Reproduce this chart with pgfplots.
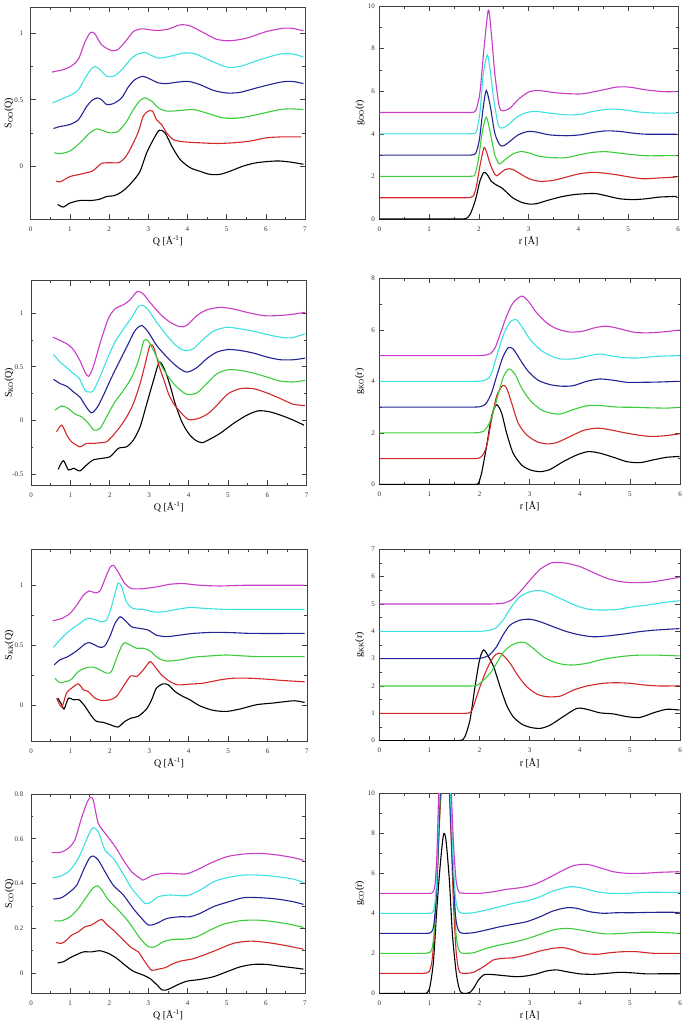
\documentclass[border=0pt]{standalone}
\usepackage{pgfplots}
\pgfplotsset{compat=1.18}
\usepackage{fontspec}
\setmainfont{Liberation Serif}
\definecolor{c0}{RGB}{0,0,0}
\definecolor{c1}{RGB}{210,40,40}
\definecolor{c2}{RGB}{60,205,60}
\definecolor{c3}{RGB}{35,35,150}
\definecolor{c4}{RGB}{60,225,225}
\definecolor{c5}{RGB}{200,60,200}
\pgfplotsset{
  grace/.style={scale only axis, anchor=north west, tick align=inside,
    major tick length=5pt, minor tick length=2.5pt, minor tick num=1,
    axis line style={line width=0.8pt, black!75},
    every tick/.style={black!75, line width=0.6pt},
    tick label style={font=\fontsize{7}{8}\selectfont, text=black!80},
    label style={font=\fontsize{12}{14}\selectfont},
    /pgf/number format/assume math mode=true,
    xticklabel shift=4pt,
    every axis x label/.style={at={(axis description cs:0.5,0)}, anchor=center, yshift=-22pt},
    every axis plot/.append style={line width=1.1pt, smooth, tension=0.45, no markers},
    cycle list={{c0},{c1},{c2},{c3},{c4},{c5}}},
  leftax/.style={grace, xmin=0, xmax=7, xtick={0,...,7}, yticklabel shift=4pt,
    xlabel={Q [Å\textsuperscript{-1}]},
    every axis y label/.style={at={(axis description cs:-0.079,0.5)}, rotate=90, anchor=center}},
  rightax/.style={grace, xmin=0, xmax=6, xtick={0,...,6}, yticklabel shift=1pt,
    xlabel={r [Å]},
    every axis y label/.style={at={(axis description cs:-0.065,0.5)}, rotate=90, anchor=center}},
}
\begin{document}
\begin{tikzpicture}
\useasboundingbox (0pt,0pt) rectangle (685pt,-1023pt);
% ---------- S_OO
\begin{axis}[leftax, at={(30.7pt,-7pt)}, width=274.3pt, height=212pt,
  ymin=-0.4, ymax=1.2, ytick={0,0.5,1}, ylabel={S\textsubscript{OO}(Q)}]
\addplot coordinates {(0.69,-0.29)(0.83,-0.31)(1.0,-0.28)(1.26,-0.26)(1.56,-0.26)(1.77,-0.25)(1.94,-0.23)(2.11,-0.225)(2.24,-0.21)(2.41,-0.175)(2.62,-0.11)(2.79,-0.04)(2.96,0.10)(3.13,0.20)(3.28,0.27)(3.43,0.25)(3.6,0.15)(3.81,0.05)(4.07,-0.013)(4.32,-0.04)(4.57,-0.063)(4.83,-0.063)(5.08,-0.04)(5.43,0)(5.77,0.025)(6.28,0.038)(6.62,0.03)(6.96,0.013)};
\addplot coordinates {(0.65,-0.113)(0.75,-0.12)(1.0,-0.08)(1.30,-0.06)(1.56,-0.04)(1.68,-0.013)(1.81,0.02)(2.02,0.025)(2.24,0.025)(2.41,0.063)(2.58,0.15)(2.75,0.26)(2.87,0.376)(3.0,0.414)(3.11,0.414)(3.21,0.35)(3.34,0.313)(3.47,0.25)(3.64,0.2)(3.89,0.183)(4.32,0.175)(4.74,0.17)(5.17,0.175)(5.6,0.188)(6.02,0.213)(6.45,0.22)(6.91,0.22)};
\addplot coordinates {(0.60,0.10)(0.75,0.093)(1.0,0.113)(1.26,0.175)(1.51,0.25)(1.68,0.28)(1.81,0.27)(2.02,0.25)(2.24,0.263)(2.45,0.338)(2.62,0.426)(2.79,0.494)(2.92,0.514)(3.09,0.489)(3.26,0.439)(3.47,0.414)(3.81,0.419)(4.15,0.426)(4.49,0.40)(4.91,0.363)(5.34,0.363)(5.85,0.393)(6.36,0.426)(6.66,0.431)(6.96,0.426)};
\addplot coordinates {(0.58,0.283)(0.75,0.298)(1.0,0.313)(1.22,0.35)(1.43,0.45)(1.56,0.494)(1.70,0.514)(1.81,0.50)(1.94,0.464)(2.11,0.471)(2.32,0.514)(2.49,0.596)(2.66,0.652)(2.86,0.677)(3.04,0.657)(3.26,0.627)(3.47,0.622)(3.72,0.632)(4.02,0.639)(4.32,0.614)(4.66,0.571)(5.0,0.551)(5.34,0.556)(5.85,0.596)(6.36,0.632)(6.66,0.639)(6.96,0.622)};
\addplot coordinates {(0.56,0.476)(0.79,0.506)(1.05,0.539)(1.22,0.576)(1.39,0.664)(1.53,0.727)(1.64,0.752)(1.77,0.727)(1.94,0.677)(2.15,0.682)(2.36,0.739)(2.58,0.815)(2.75,0.847)(2.92,0.857)(3.04,0.84)(3.26,0.815)(3.55,0.827)(3.89,0.852)(4.19,0.847)(4.57,0.797)(5.0,0.747)(5.34,0.752)(5.85,0.802)(6.36,0.845)(6.70,0.845)(6.96,0.822)};
\addplot coordinates {(0.54,0.709)(0.83,0.727)(1.05,0.757)(1.22,0.807)(1.39,0.94)(1.53,1.008)(1.64,0.997)(1.81,0.915)(2.07,0.87)(2.24,0.882)(2.45,0.952)(2.62,1.015)(2.83,1.035)(3.04,1.028)(3.26,1.023)(3.51,1.033)(3.81,1.065)(4.06,1.058)(4.40,1.008)(4.74,0.957)(5.08,0.945)(5.51,0.965)(6.02,1.015)(6.45,1.04)(6.70,1.038)(6.96,1.02)};
\end{axis}
% ---------- g_OO
\begin{axis}[rightax, at={(379.3pt,-6pt)}, width=298.7pt, height=213pt,
  ymin=0, ymax=10, ytick={0,2,...,10}, ylabel={g\textsubscript{OO}(r)}]
\addplot coordinates {(0,0)(0.8,0)(1.3,0)(1.55,0)(1.68,0)(1.75,0.03)(1.82,0.2)(1.89,0.6)(1.95,1.06)(2.02,1.77)(2.10,2.19)(2.17,2.08)(2.25,1.77)(2.35,1.6)(2.45,1.48)(2.56,1.25)(2.69,0.98)(2.86,0.78)(3.02,0.70)(3.16,0.72)(3.36,0.86)(3.63,1.03)(3.89,1.14)(4.16,1.19)(4.36,1.19)(4.56,1.09)(4.83,0.95)(5.10,0.91)(5.36,0.95)(5.63,1.03)(5.97,1.06)};
\addplot coordinates {(0,1)(0.8,1)(1.3,1)(1.6,1)(1.75,1)(1.83,1.01)(1.89,1.08)(1.95,1.53)(2.02,2.47)(2.10,3.33)(2.15,3.17)(2.22,2.63)(2.29,2.23)(2.35,2.03)(2.42,2.13)(2.52,2.31)(2.62,2.36)(2.72,2.28)(2.86,2.08)(3.02,1.88)(3.22,1.77)(3.49,1.81)(3.76,1.97)(4.03,2.13)(4.29,2.19)(4.49,2.16)(4.76,2.08)(5.03,1.97)(5.30,1.89)(5.57,1.92)(5.97,1.97)};
\addplot coordinates {(0,2)(0.8,2)(1.3,2)(1.6,2)(1.77,2)(1.86,2.01)(1.92,2.08)(1.99,2.78)(2.07,4.1)(2.15,4.78)(2.23,4.03)(2.32,3.02)(2.41,2.59)(2.52,2.78)(2.69,3.06)(2.86,3.17)(3.02,3.09)(3.22,2.94)(3.49,2.88)(3.76,2.88)(4.03,3.02)(4.29,3.13)(4.56,3.16)(4.83,3.09)(5.10,3.02)(5.36,2.97)(5.63,2.97)(5.97,2.98)};
\addplot coordinates {(0,3)(0.8,3)(1.3,3)(1.6,3)(1.78,3)(1.87,3.01)(1.94,3.1)(2.01,3.72)(2.09,5.28)(2.15,6.03)(2.23,5.28)(2.32,4.03)(2.42,3.48)(2.50,3.44)(2.62,3.64)(2.79,3.95)(2.99,4.11)(3.16,4.08)(3.42,3.95)(3.76,3.91)(4.03,3.95)(4.29,4.06)(4.56,4.14)(4.83,4.11)(5.10,4.03)(5.36,3.98)(5.70,3.98)(5.97,3.98)};
\addplot coordinates {(0,4)(0.8,4)(1.3,4)(1.6,4)(1.8,4)(1.89,4.01)(1.95,4.1)(2.02,4.97)(2.09,6.84)(2.17,7.70)(2.23,6.92)(2.30,5.59)(2.39,4.42)(2.47,4.27)(2.59,4.42)(2.76,4.78)(2.96,5.0)(3.16,5.05)(3.42,4.97)(3.76,4.89)(4.03,4.91)(4.29,5.05)(4.63,5.16)(4.90,5.13)(5.23,5.02)(5.57,4.97)(5.97,4.97)};
\addplot coordinates {(0,5)(0.8,5)(1.3,5)(1.6,5)(1.78,5)(1.87,5.01)(1.94,5.1)(2.02,5.91)(2.10,7.94)(2.19,9.81)(2.25,8.72)(2.32,6.84)(2.41,5.28)(2.49,5.08)(2.62,5.20)(2.82,5.67)(3.02,5.98)(3.22,6.03)(3.49,5.94)(3.83,5.88)(4.09,5.88)(4.43,6.03)(4.76,6.19)(5.03,6.19)(5.36,6.06)(5.70,5.98)(5.97,5.98)};
\end{axis}
% ---------- S_KO
\begin{axis}[leftax, at={(31pt,-280.7pt)}, width=275.7pt, height=204.3pt,
  ymin=-0.6, ymax=1.3, ytick={-0.5,0,0.5,1}, ylabel={S\textsubscript{KO}(Q)}]
\addplot coordinates {(0.69,-0.454)(0.82,-0.373)(0.95,-0.46)(1.08,-0.444)(1.24,-0.469)(1.41,-0.414)(1.58,-0.367)(1.80,-0.352)(2.01,-0.336)(2.22,-0.259)(2.43,-0.244)(2.60,-0.182)(2.77,-0.059)(2.94,0.157)(3.11,0.373)(3.26,0.543)(3.40,0.466)(3.53,0.327)(3.66,0.157)(3.83,-0.012)(4.0,-0.12)(4.17,-0.182)(4.34,-0.207)(4.5,-0.182)(4.80,-0.12)(5.14,-0.028)(5.48,0.049)(5.77,0.09)(6.07,0.08)(6.41,0.04)(6.66,0.003)(6.93,-0.043)};
\addplot coordinates {(0.65,-0.105)(0.78,-0.043)(0.91,-0.136)(1.03,-0.198)(1.24,-0.244)(1.41,-0.213)(1.58,-0.213)(1.75,-0.207)(1.92,-0.198)(2.09,-0.136)(2.26,-0.059)(2.43,0.034)(2.60,0.157)(2.77,0.343)(2.90,0.528)(3.02,0.698)(3.12,0.676)(3.26,0.497)(3.38,0.373)(3.49,0.25)(3.62,0.157)(3.79,0.08)(4.0,0.009)(4.25,0.019)(4.50,0.065)(4.76,0.157)(5.01,0.25)(5.31,0.296)(5.65,0.296)(5.99,0.256)(6.33,0.204)(6.66,0.151)(6.96,0.139)};
\addplot coordinates {(0.61,0.096)(0.78,0.136)(0.95,0.111)(1.12,0.059)(1.29,0.034)(1.46,-0.028)(1.60,-0.09)(1.75,-0.074)(1.92,0.034)(2.13,0.173)(2.35,0.281)(2.56,0.404)(2.73,0.559)(2.87,0.744)(2.98,0.738)(3.11,0.651)(3.28,0.528)(3.49,0.404)(3.70,0.312)(3.95,0.244)(4.21,0.256)(4.46,0.343)(4.72,0.435)(5.01,0.472)(5.31,0.466)(5.65,0.441)(5.99,0.404)(6.33,0.367)(6.66,0.358)(6.96,0.373)};
\addplot coordinates {(0.57,0.383)(0.74,0.343)(0.91,0.318)(1.08,0.265)(1.24,0.219)(1.40,0.127)(1.54,0.071)(1.69,0.127)(1.84,0.235)(2.05,0.404)(2.26,0.559)(2.47,0.713)(2.64,0.836)(2.81,0.883)(2.98,0.821)(3.19,0.698)(3.45,0.59)(3.70,0.503)(3.95,0.45)(4.21,0.491)(4.46,0.574)(4.72,0.636)(5.01,0.66)(5.31,0.651)(5.65,0.627)(5.99,0.59)(6.33,0.565)(6.66,0.565)(6.96,0.58)};
\addplot coordinates {(0.57,0.614)(0.74,0.543)(0.91,0.491)(1.08,0.435)(1.23,0.389)(1.37,0.281)(1.48,0.265)(1.58,0.275)(1.75,0.404)(1.92,0.559)(2.13,0.728)(2.35,0.852)(2.56,0.96)(2.73,1.062)(2.85,1.068)(2.98,1.028)(3.19,0.914)(3.45,0.79)(3.70,0.691)(3.91,0.651)(4.12,0.667)(4.34,0.744)(4.63,0.83)(4.97,0.867)(5.31,0.852)(5.65,0.83)(5.99,0.80)(6.33,0.775)(6.62,0.769)(6.96,0.806)};
\addplot coordinates {(0.55,0.775)(0.69,0.753)(0.91,0.713)(1.08,0.657)(1.24,0.559)(1.37,0.451)(1.46,0.41)(1.58,0.497)(1.75,0.713)(1.96,0.944)(2.13,1.037)(2.35,1.077)(2.51,1.12)(2.70,1.20)(2.85,1.176)(3.02,1.099)(3.28,0.99)(3.53,0.914)(3.78,0.873)(3.95,0.883)(4.21,0.975)(4.46,1.028)(4.80,1.052)(5.14,1.037)(5.48,1.006)(5.90,0.975)(6.24,0.975)(6.58,0.985)(6.96,1.006)};
\end{axis}
% ---------- g_KO
\begin{axis}[rightax, at={(379.3pt,-278.3pt)}, width=300.7pt, height=206pt,
  ymin=0, ymax=8, ytick={0,2,...,8}, ylabel={g\textsubscript{KO}(r)}]
\addplot coordinates {(0,0)(0.9,0)(1.4,0)(1.7,0)(1.88,0)(1.97,0.02)(2.04,0.43)(2.14,1.47)(2.24,2.64)(2.34,3.09)(2.44,2.77)(2.54,1.99)(2.67,1.21)(2.84,0.75)(3.01,0.56)(3.21,0.49)(3.41,0.58)(3.67,0.88)(3.94,1.14)(4.17,1.27)(4.40,1.21)(4.67,1.05)(4.94,0.88)(5.20,0.84)(5.47,0.95)(5.74,1.05)(5.99,1.08)};
\addplot coordinates {(0,1)(0.9,1)(1.4,1)(1.7,1)(1.88,1)(1.97,1.01)(2.05,1.1)(2.14,1.47)(2.24,2.51)(2.34,3.42)(2.46,3.83)(2.54,3.74)(2.64,3.16)(2.77,2.38)(2.94,1.92)(3.14,1.66)(3.34,1.57)(3.54,1.62)(3.81,1.86)(4.07,2.09)(4.34,2.18)(4.60,2.12)(4.87,2.01)(5.14,1.92)(5.40,1.86)(5.67,1.88)(5.99,1.96)};
\addplot coordinates {(0,2)(0.9,2)(1.4,2)(1.7,2)(1.9,2)(2.0,2.01)(2.08,2.06)(2.18,2.31)(2.28,2.83)(2.38,3.55)(2.48,4.19)(2.59,4.48)(2.71,4.26)(2.84,3.74)(3.01,3.26)(3.21,2.92)(3.41,2.77)(3.61,2.73)(3.87,2.90)(4.14,3.05)(4.40,3.06)(4.74,3.0)(5.07,2.99)(5.40,2.97)(5.74,2.96)(5.99,2.99)};
\addplot coordinates {(0,3)(0.9,3)(1.4,3)(1.7,3)(1.9,3)(2.0,3.01)(2.07,3.05)(2.14,3.16)(2.24,3.55)(2.34,4.19)(2.46,4.91)(2.57,5.30)(2.67,5.26)(2.81,4.84)(2.97,4.39)(3.17,4.04)(3.41,3.87)(3.64,3.81)(3.87,3.83)(4.14,4.0)(4.40,4.09)(4.67,4.04)(4.94,3.96)(5.20,3.96)(5.54,3.97)(5.99,4.0)};
\addplot coordinates {(0,4)(0.9,4)(1.4,4)(1.7,4)(1.92,4)(2.02,4.01)(2.10,4.04)(2.17,4.1)(2.24,4.32)(2.34,4.97)(2.48,5.82)(2.61,6.30)(2.73,6.40)(2.84,6.14)(3.01,5.62)(3.21,5.23)(3.41,5.0)(3.61,4.87)(3.87,4.87)(4.14,4.97)(4.40,5.06)(4.67,4.97)(4.94,4.91)(5.20,4.91)(5.54,4.97)(5.99,5.0)};
\addplot coordinates {(0,5)(0.9,5)(1.4,5)(1.75,5)(1.97,5)(2.07,5.01)(2.15,5.03)(2.22,5.08)(2.31,5.30)(2.41,5.82)(2.54,6.53)(2.67,7.05)(2.84,7.31)(2.97,7.12)(3.14,6.66)(3.34,6.27)(3.54,6.04)(3.81,5.91)(4.07,5.95)(4.30,6.08)(4.54,6.14)(4.80,6.04)(5.07,5.91)(5.34,5.88)(5.67,5.92)(5.99,5.99)};
\end{axis}
% ---------- S_KK
\begin{axis}[leftax, at={(31pt,-549.3pt)}, width=276pt, height=191.7pt,
  ymin=-0.3, ymax=1.3, ytick={0,0.5,1}, ylabel={S\textsubscript{KK}(Q)}]
\addplot coordinates {(0.68,0.058)(0.78,0.003)(0.84,-0.033)(0.95,0.058)(1.07,0.044)(1.22,0.044)(1.37,-0.011)(1.54,-0.094)(1.66,-0.136)(1.83,-0.144)(2.0,-0.163)(2.21,-0.183)(2.38,-0.136)(2.55,-0.108)(2.72,-0.094)(2.93,-0.033)(3.06,0.044)(3.18,0.141)(3.35,0.177)(3.48,0.169)(3.65,0.114)(3.82,0.078)(4.03,0.044)(4.28,-0.006)(4.62,-0.044)(4.96,-0.053)(5.30,-0.033)(5.72,0.003)(6.14,0.017)(6.48,0.03)(6.69,0.036)(6.94,0.022)};
\addplot coordinates {(0.65,0.058)(0.78,-0.017)(0.90,0.1)(1.03,0.141)(1.20,0.177)(1.33,0.127)(1.45,0.114)(1.62,0.058)(1.79,0.039)(2.0,0.044)(2.17,0.072)(2.34,0.155)(2.53,0.244)(2.68,0.238)(2.85,0.294)(3.02,0.363)(3.14,0.321)(3.31,0.252)(3.52,0.197)(3.73,0.169)(4.03,0.175)(4.37,0.183)(4.79,0.21)(5.13,0.224)(5.55,0.224)(5.97,0.216)(6.39,0.205)(6.94,0.194)};
\addplot coordinates {(0.61,0.224)(0.73,0.188)(0.90,0.197)(1.03,0.216)(1.20,0.28)(1.41,0.313)(1.58,0.316)(1.75,0.294)(1.92,0.266)(2.04,0.28)(2.17,0.391)(2.30,0.493)(2.38,0.521)(2.51,0.501)(2.68,0.474)(2.85,0.474)(3.02,0.452)(3.23,0.391)(3.44,0.368)(3.78,0.377)(4.11,0.399)(4.54,0.41)(4.96,0.418)(5.38,0.41)(5.80,0.404)(6.22,0.404)(6.94,0.404)};
\addplot coordinates {(0.59,0.335)(0.73,0.377)(0.90,0.399)(1.07,0.432)(1.24,0.474)(1.37,0.51)(1.49,0.521)(1.62,0.501)(1.75,0.482)(1.87,0.493)(2.0,0.571)(2.13,0.681)(2.26,0.737)(2.38,0.709)(2.55,0.654)(2.76,0.64)(2.97,0.626)(3.18,0.584)(3.44,0.571)(3.78,0.584)(4.11,0.598)(4.62,0.607)(5.13,0.604)(5.63,0.598)(6.94,0.598)};
\addplot coordinates {(0.57,0.482)(0.73,0.543)(0.90,0.598)(1.11,0.654)(1.24,0.681)(1.37,0.715)(1.49,0.723)(1.66,0.709)(1.79,0.695)(1.92,0.709)(2.04,0.82)(2.13,0.931)(2.21,1.019)(2.30,0.986)(2.42,0.861)(2.59,0.806)(2.85,0.798)(3.10,0.778)(3.35,0.778)(3.69,0.798)(4.03,0.814)(4.45,0.806)(4.96,0.798)(5.55,0.798)(6.94,0.798)};
\addplot coordinates {(0.55,0.704)(0.78,0.723)(0.99,0.765)(1.16,0.834)(1.33,0.917)(1.48,0.953)(1.62,0.936)(1.75,0.953)(1.87,1.047)(2.0,1.147)(2.09,1.166)(2.21,1.111)(2.38,1.014)(2.55,0.972)(2.85,0.972)(3.18,0.986)(3.52,1.008)(3.86,1.014)(4.28,1.0)(4.79,0.994)(5.46,1.0)(6.94,1.0)};
\end{axis}
% ---------- g_KK
\begin{axis}[rightax, at={(379.3pt,-549.3pt)}, width=300.7pt, height=191.4pt,
  ymin=0, ymax=7, ytick={0,...,7}, ylabel={g\textsubscript{KK}(r)}]
\addplot coordinates {(0,0)(0.7,0)(1.1,0)(1.4,0)(1.55,0)(1.64,0.02)(1.71,0.15)(1.81,0.76)(1.91,1.98)(2.0,2.95)(2.08,3.32)(2.18,3.07)(2.28,2.71)(2.41,1.98)(2.54,1.30)(2.67,0.88)(2.84,0.61)(3.01,0.49)(3.21,0.45)(3.41,0.57)(3.67,0.88)(3.94,1.18)(4.14,1.15)(4.40,1.02)(4.67,0.98)(4.94,0.88)(5.20,0.85)(5.47,1.02)(5.74,1.15)(5.99,1.12)};
\addplot coordinates {(0,1)(0.8,1)(1.2,1)(1.5,1)(1.68,1)(1.77,1.01)(1.84,1.08)(1.91,1.43)(2.01,1.98)(2.14,2.59)(2.28,3.07)(2.38,3.20)(2.47,3.13)(2.61,2.83)(2.77,2.37)(2.94,1.98)(3.14,1.71)(3.34,1.61)(3.61,1.63)(3.87,1.85)(4.14,2.0)(4.47,2.10)(4.74,2.12)(5.0,2.10)(5.27,2.04)(5.60,2.0)(5.99,2.01)};
\addplot coordinates {(0,2)(0.8,2)(1.3,2)(1.6,2)(1.8,2)(1.9,2.01)(1.98,2.06)(2.08,2.22)(2.21,2.46)(2.34,2.83)(2.47,3.22)(2.61,3.46)(2.77,3.59)(2.91,3.59)(3.07,3.38)(3.27,3.07)(3.47,2.89)(3.67,2.79)(3.87,2.77)(4.14,2.83)(4.40,2.95)(4.67,3.04)(4.94,3.10)(5.20,3.13)(5.54,3.13)(5.99,3.10)};
\addplot coordinates {(0,3)(0.8,3)(1.3,3)(1.6,3)(1.85,3)(1.98,3.01)(2.08,3.04)(2.2,3.14)(2.34,3.44)(2.47,3.87)(2.61,4.23)(2.81,4.41)(3.01,4.44)(3.21,4.35)(3.47,4.17)(3.74,3.99)(4.0,3.87)(4.27,3.80)(4.54,3.83)(4.87,3.90)(5.20,3.99)(5.54,4.05)(5.99,4.10)};
\addplot coordinates {(0,4)(0.8,4)(1.3,4)(1.7,4)(1.95,4)(2.08,4.01)(2.2,4.04)(2.33,4.13)(2.47,4.41)(2.64,4.90)(2.81,5.27)(3.01,5.45)(3.21,5.49)(3.41,5.37)(3.67,5.15)(3.94,4.93)(4.20,4.80)(4.47,4.78)(4.74,4.80)(5.0,4.88)(5.34,4.96)(5.67,5.05)(5.99,5.12)};
\addplot coordinates {(0,5)(0.8,5)(1.4,5)(1.9,5)(2.2,5)(2.37,5.01)(2.5,5.04)(2.64,5.15)(2.81,5.45)(3.01,5.88)(3.21,6.27)(3.41,6.49)(3.54,6.52)(3.74,6.49)(4.0,6.37)(4.27,6.15)(4.54,5.94)(4.80,5.82)(5.07,5.78)(5.34,5.79)(5.60,5.85)(5.99,5.98)};
\end{axis}
% ---------- S_CO
\begin{axis}[leftax, at={(31pt,-794pt)}, width=274pt, height=199.3pt,
  ymin=-0.09, ymax=0.8, ytick={0,0.2,...,0.8}, ylabel={S\textsubscript{CO}(Q)}]
\addplot coordinates {(0.68,0.046)(0.83,0.051)(1.0,0.069)(1.17,0.083)(1.34,0.095)(1.55,0.095)(1.76,0.10)(1.98,0.088)(2.19,0.066)(2.40,0.036)(2.61,0.009)(2.87,-0.009)(3.04,-0.024)(3.21,-0.051)(3.36,-0.076)(3.51,-0.072)(3.72,-0.054)(3.98,-0.036)(4.32,-0.028)(4.66,-0.016)(5.0,0.006)(5.34,0.028)(5.68,0.039)(6.02,0.039)(6.36,0.031)(6.70,0.024)(6.96,0.018)};
\addplot coordinates {(0.64,0.137)(0.78,0.133)(0.91,0.148)(1.04,0.17)(1.21,0.185)(1.38,0.207)(1.55,0.215)(1.68,0.23)(1.81,0.24)(1.93,0.218)(2.15,0.185)(2.36,0.148)(2.57,0.113)(2.74,0.095)(2.91,0.051)(3.08,0.013)(3.25,0.018)(3.42,0.024)(3.64,0.043)(3.85,0.055)(4.11,0.063)(4.40,0.08)(4.74,0.103)(5.17,0.133)(5.60,0.143)(6.02,0.137)(6.45,0.125)(6.96,0.107)};
\addplot coordinates {(0.60,0.234)(0.78,0.234)(1.0,0.252)(1.21,0.289)(1.42,0.341)(1.58,0.379)(1.70,0.39)(1.81,0.371)(1.98,0.326)(2.23,0.282)(2.49,0.23)(2.79,0.155)(3.0,0.118)(3.17,0.118)(3.38,0.14)(3.64,0.151)(3.94,0.152)(4.23,0.162)(4.57,0.192)(4.91,0.218)(5.34,0.234)(5.77,0.237)(6.19,0.23)(6.62,0.218)(6.96,0.204)};
\addplot coordinates {(0.57,0.331)(0.78,0.337)(1.0,0.364)(1.17,0.393)(1.34,0.46)(1.49,0.513)(1.59,0.523)(1.72,0.505)(1.89,0.453)(2.10,0.393)(2.36,0.349)(2.61,0.289)(2.83,0.244)(3.0,0.215)(3.21,0.222)(3.47,0.244)(3.81,0.252)(4.06,0.252)(4.32,0.267)(4.66,0.297)(5.0,0.316)(5.43,0.337)(5.85,0.337)(6.28,0.331)(6.70,0.319)(6.96,0.307)};
\addplot coordinates {(0.55,0.426)(0.78,0.435)(1.0,0.46)(1.21,0.513)(1.38,0.58)(1.51,0.632)(1.59,0.65)(1.72,0.632)(1.89,0.55)(2.10,0.513)(2.32,0.453)(2.57,0.379)(2.79,0.334)(2.91,0.311)(3.04,0.314)(3.25,0.341)(3.55,0.349)(3.98,0.346)(4.32,0.371)(4.66,0.408)(5.0,0.426)(5.43,0.438)(5.85,0.438)(6.28,0.431)(6.70,0.42)(6.96,0.405)};
\addplot coordinates {(0.53,0.539)(0.74,0.539)(0.95,0.557)(1.12,0.595)(1.29,0.692)(1.44,0.766)(1.52,0.784)(1.59,0.773)(1.72,0.669)(1.93,0.617)(2.15,0.565)(2.36,0.505)(2.57,0.453)(2.79,0.423)(2.87,0.416)(3.13,0.438)(3.47,0.446)(3.94,0.443)(4.23,0.46)(4.57,0.49)(5.0,0.52)(5.43,0.532)(5.85,0.535)(6.28,0.528)(6.70,0.516)(6.96,0.504)};
\end{axis}
% ---------- g_CO
\begin{axis}[rightax, at={(379.3pt,-793.3pt)}, width=300.7pt, height=200pt,
  ymin=0, ymax=10, ytick={0,2,...,10}, ylabel={g\textsubscript{CO}(r)}]
\addplot coordinates {(0,0)(0.5,0)(0.75,0)(0.88,0)(0.95,0.02)(1.01,0.33)(1.08,1.58)(1.14,3.92)(1.21,6.25)(1.28,7.92)(1.33,7.67)(1.40,5.58)(1.46,2.92)(1.54,0.92)(1.61,0.12)(1.68,0)(1.75,0)(1.81,0.05)(1.88,0.25)(1.98,0.67)(2.08,0.92)(2.18,0.95)(2.34,0.92)(2.54,0.87)(2.74,0.83)(2.94,0.87)(3.14,0.97)(3.34,1.12)(3.54,1.17)(3.74,1.08)(4.01,0.97)(4.27,0.95)(4.54,1.0)(4.80,1.05)(5.07,1.02)(5.34,0.97)(5.67,0.98)(5.99,0.98)};
\addplot coordinates {(0,1)(0.5,1)(0.75,1)(0.88,1)(0.95,1.02)(1.0,1.1)(1.05,1.6)(1.1,3)(1.15,5.5)(1.2,8.5)(1.26,11)(1.32,12)(1.38,11)(1.43,8)(1.48,4.5)(1.53,2.2)(1.58,1.2)(1.63,1.02)(1.7,1.0)(1.8,1.01)(1.88,1.05)(2.08,1.33)(2.28,1.67)(2.48,1.75)(2.67,1.78)(2.94,1.92)(3.21,2.12)(3.47,2.25)(3.67,2.28)(3.87,2.17)(4.07,2.0)(4.34,1.95)(4.60,2.03)(4.87,2.08)(5.14,2.08)(5.47,2.0)(5.99,2.0)};
\addplot coordinates {(0,2)(0.5,2)(0.78,2)(0.92,2)(0.99,2.03)(1.05,2.2)(1.1,3.2)(1.15,5.5)(1.2,8.8)(1.26,12)(1.32,13)(1.38,12)(1.43,9)(1.48,5.5)(1.53,3)(1.58,2.2)(1.64,2.02)(1.72,2.0)(1.88,2.03)(2.14,2.25)(2.41,2.42)(2.67,2.55)(2.94,2.72)(3.21,2.95)(3.47,3.17)(3.74,3.25)(4.01,3.17)(4.27,3.05)(4.54,2.97)(4.87,3.0)(5.20,3.05)(5.54,3.05)(5.99,3.0)};
\addplot coordinates {(0,3)(0.5,3)(0.8,3)(0.94,3)(1.02,3.03)(1.08,3.3)(1.13,4.6)(1.18,7.5)(1.23,11)(1.3,14)(1.37,12.5)(1.42,9)(1.47,6)(1.52,3.9)(1.57,3.2)(1.63,3.02)(1.72,3.0)(1.88,3.03)(2.14,3.17)(2.41,3.33)(2.67,3.45)(2.94,3.58)(3.21,3.83)(3.47,4.12)(3.74,4.28)(3.94,4.25)(4.20,4.08)(4.47,4.0)(4.74,4.03)(5.07,4.03)(5.47,4.05)(5.99,4.05)};
\addplot coordinates {(0,4)(0.5,4)(0.82,4)(0.97,4)(1.05,4.03)(1.1,4.3)(1.14,5.5)(1.18,8.5)(1.23,12.5)(1.3,15)(1.37,13)(1.42,10)(1.47,6.8)(1.52,4.8)(1.57,4.15)(1.63,4.02)(1.72,4.0)(1.88,4.03)(2.14,4.17)(2.41,4.33)(2.67,4.5)(2.94,4.62)(3.21,4.83)(3.47,5.12)(3.81,5.33)(4.07,5.25)(4.34,5.08)(4.60,5.0)(4.94,5.0)(5.34,5.05)(5.67,5.05)(5.99,5.05)};
\addplot coordinates {(0,5)(0.5,5)(0.82,5)(0.98,5)(1.06,5.03)(1.11,5.4)(1.15,7)(1.19,10.5)(1.24,14)(1.31,17)(1.38,14)(1.43,10.5)(1.48,7.5)(1.53,5.7)(1.58,5.1)(1.64,5.01)(1.75,5.0)(2.01,5.0)(2.28,5.08)(2.54,5.2)(2.81,5.28)(3.07,5.42)(3.34,5.72)(3.61,6.08)(3.87,6.38)(4.14,6.45)(4.40,6.28)(4.67,6.08)(4.94,6.0)(5.27,6.0)(5.60,6.05)(5.99,6.08)};
\end{axis}
\end{tikzpicture}
\end{document}
